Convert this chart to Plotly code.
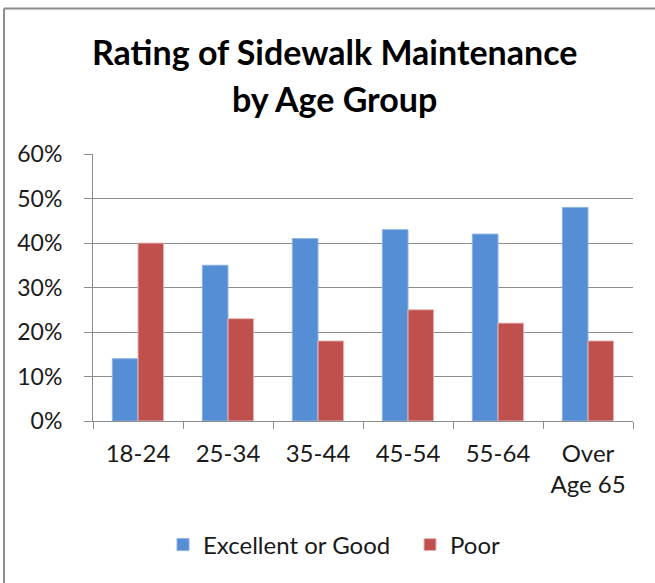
import plotly.graph_objects as go

# Survey results: share of respondents rating sidewalk maintenance, by age group
age_groups = ["18-24", "25-34", "35-44", "45-54", "55-64", "Over<br>Age 65"]
excellent_or_good = [0.14, 0.35, 0.41, 0.43, 0.42, 0.48]
poor = [0.40, 0.23, 0.18, 0.25, 0.22, 0.18]
y_ticks = [0, 0.1, 0.2, 0.3, 0.4, 0.5, 0.6]
title_lines = ["Rating of Sidewalk Maintenance", "by Age Group"]

FONT = "Lato"
GRID = "#8c8c8c"
TEXT = "#1a1a1a"

# plot-area geometry in pixels (used to place paper-referenced items)
L, R, T, B = 93, 633, 154, 421
W, H = R - L, B - T


def px_x(x):
    return (x - L) / W


def px_y(y):
    return (B - y) / H


fig = go.Figure()
fig.add_trace(go.Bar(
    x=age_groups, y=excellent_or_good, name="Excellent or Good",
    marker=dict(color="#558ED5", line=dict(color="#8DB3E2", width=1)),
))
fig.add_trace(go.Bar(
    x=age_groups, y=poor, name="Poor",
    marker=dict(color="#C0504D", line=dict(color="#E6B9B8", width=1)),
))

fig.update_layout(
    width=655, height=583,
    margin=dict(l=L, r=655 - R, t=T, b=583 - B, autoexpand=False),
    paper_bgcolor="white", plot_bgcolor="white",
    barmode="group", bargap=0.43, bargroupgap=0,
    font=dict(family=FONT, color="#000000"),
    legend=dict(
        orientation="h", x=px_x(163), xanchor="left",
        y=px_y(545), yanchor="middle",
        font=dict(family=FONT, size=24, color=TEXT),
        entrywidth=202, entrywidthmode="pixels",
        traceorder="normal",
    ),
    showlegend=True,
)

# two-line chart title
for text, yc in zip(title_lines, [52, 99]):
    fig.add_annotation(
        text=f"<b>{text}</b>", xref="paper", yref="paper",
        x=px_x(334), y=px_y(yc), xanchor="center", yanchor="middle",
        showarrow=False, font=dict(family=FONT, size=34, color="#000000"),
    )

fig.update_xaxes(
    showline=True, linecolor=GRID, linewidth=1,
    ticks="outside", ticklen=7, tickcolor=GRID, tickson="boundaries",
    tickfont=dict(family=FONT, size=24, color=TEXT),
    ticklabelstandoff=11,
    showgrid=False,
)
fig.update_yaxes(
    range=[0, 0.6], tickvals=y_ticks, tickformat=".0%",
    showline=True, linecolor=GRID, linewidth=1,
    ticks="outside", ticklen=8, tickcolor=GRID,
    showgrid=True, gridcolor=GRID, gridwidth=1,
    tickfont=dict(family=FONT, size=23, color=TEXT),
    ticklabelstandoff=17, zeroline=False,
)

# chart-area frame: top and left edges
fig.add_shape(type="line", xref="paper", yref="paper",
              x0=px_x(4), x1=px_x(660), y0=px_y(8.5), y1=px_y(8.5),
              line=dict(color=GRID, width=2))
fig.add_shape(type="line", xref="paper", yref="paper",
              x0=px_x(4), x1=px_x(4), y0=px_y(8.5), y1=px_y(590),
              line=dict(color=GRID, width=2))

fig.write_html("out.html")
